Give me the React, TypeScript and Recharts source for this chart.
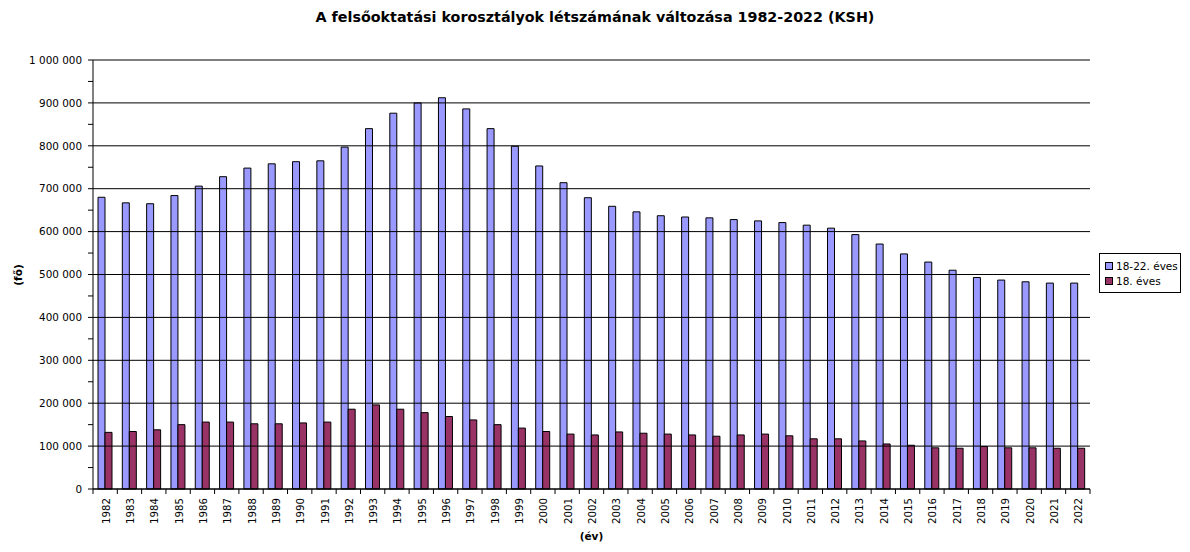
import React from 'react';
import { BarChart, Bar, XAxis, YAxis, ReferenceLine } from 'recharts';

const years = ['1982','1983','1984','1985','1986','1987','1988','1989','1990','1991','1992','1993','1994','1995','1996','1997','1998','1999','2000','2001','2002','2003','2004','2005','2006','2007','2008','2009','2010','2011','2012','2013','2014','2015','2016','2017','2018','2019','2020','2021','2022'];

const age18to22 = [680000,667000,665000,684000,706000,728000,748000,758000,763000,765000,797000,840000,876000,900000,912000,886000,840000,799000,753000,714000,679000,659000,646000,637000,634000,632000,628000,625000,621000,615000,608000,593000,571000,548000,529000,510000,493000,487000,483000,480000,480000];

const age18 = [132000,134000,138000,150000,156000,156000,152000,152000,154000,156000,186000,196000,186000,178000,169000,161000,150000,142000,134000,128000,126000,133000,130000,128000,126000,123000,126000,128000,124000,117000,117000,112000,105000,102000,96000,95000,99000,96000,96000,95000,95000];

const yTicks = [0,50000,100000,150000,200000,250000,300000,350000,400000,450000,500000,550000,600000,650000,700000,750000,800000,850000,900000,950000,1000000];
const majorTicks = [0,100000,200000,300000,400000,500000,600000,700000,800000,900000,1000000];

const seriesNames = ['18-22. éves', '18. éves'];
const colors = ['#9999FF', '#993366'];

const data = years.map((y, i) => ({ year: y, a: age18to22[i], b: age18[i] }));

const FONT = '"DejaVu Sans", Verdana, sans-serif';

const fmt = (v: number) => v.toString().replace(/\B(?=(\d{3})+(?!\d))/g, ' ');

const YTick = (props: any) => {
  const { x, y, payload } = props;
  if (payload.value % 100000 !== 0) return <g />;
  return (
    <text x={x} y={y} dy={3.7} textAnchor="end" fontSize={10.4} fontFamily={FONT} fill="#000">
      {fmt(payload.value)}
    </text>
  );
};

const XTick = (props: any) => {
  const { x, y, payload, index } = props;
  const off = payload.offset ?? 12.16;
  const last = index === years.length - 1;
  return (
    <g>
      <line x1={x - off} x2={x - off} y1={y - 7} y2={y - 2} stroke="#000" />
      {last && <line x1={x + off} x2={x + off} y1={y - 7} y2={y - 2} stroke="#000" />}
      <text
        transform={`translate(${x + 1},${y + 2}) rotate(-90)`}
        textAnchor="end"
        dominantBaseline="central"
        fontSize={10.2}
        fontFamily={FONT}
        fill="#000"
      >
        {payload.value}
      </text>
    </g>
  );
};

export default function App() {
  return (
    <div style={{ position: 'absolute', left: 0, top: 0, width: 1190, height: 552, background: '#fff', fontFamily: FONT }}>
      <div style={{ position: 'absolute', left: 0, top: 9, width: 1190, textAlign: 'center', fontSize: 14.3, fontWeight: 'bold', color: '#000' }}>
        A felsőoktatási korosztályok létszámának változása 1982-2022 (KSH)
      </div>
      <BarChart
        width={1190}
        height={552}
        data={data}
        margin={{ top: 60, right: 100, bottom: 0, left: 0 }}
        barGap={0}
        barSize={7}
      >
        {majorTicks.map((v) => (
          <ReferenceLine key={v} y={v} stroke="#000" strokeWidth={1} />
        ))}
        <XAxis
          dataKey="year"
          height={63}
          interval={0}
          tickSize={5}
          tickMargin={2}
          tickLine={false}
          axisLine={{ stroke: '#000' }}
          tick={<XTick />}
        />
        <YAxis
          width={93}
          domain={[0, 1000000]}
          ticks={yTicks}
          interval={0}
          tickSize={5}
          tickMargin={6}
          tickLine={{ stroke: '#000' }}
          axisLine={{ stroke: '#000' }}
          tick={<YTick />}
        />
        <YAxis yAxisId="r" orientation="right" width={0} tick={false} tickLine={false} axisLine={{ stroke: '#000' }} />
        <Bar dataKey="a" name={seriesNames[0]} fill={colors[0]} stroke="#000" strokeWidth={1} isAnimationActive={false} />
        <Bar dataKey="b" name={seriesNames[1]} fill={colors[1]} stroke="#000" strokeWidth={1} isAnimationActive={false} />
      </BarChart>
      <div style={{ position: 'absolute', left: 0, top: 530, width: 1183, textAlign: 'center', fontSize: 10.5, fontWeight: 'bold' }}>(év)</div>
      <div style={{ position: 'absolute', left: 18, top: 275, width: 0, height: 0 }}>
        <div style={{ position: 'absolute', transform: 'translate(-50%,-50%) rotate(-90deg)', fontSize: 10.5, fontWeight: 'bold', whiteSpace: 'nowrap' }}>(fő)</div>
      </div>
      <div style={{ position: 'absolute', left: 1099, top: 253, width: 82, height: 40, border: '1px solid #000', fontSize: 10.5, boxSizing: 'border-box', padding: '4px 0 0 5px' }}>
        {seriesNames.map((n, i) => (
          <div key={n} style={{ display: 'flex', alignItems: 'center', height: 15 }}>
            <span style={{ display: 'inline-block', width: 6, height: 6, background: colors[i], border: '1px solid #000', marginRight: 3 }} />
            <span>{n}</span>
          </div>
        ))}
      </div>
    </div>
  );
}
